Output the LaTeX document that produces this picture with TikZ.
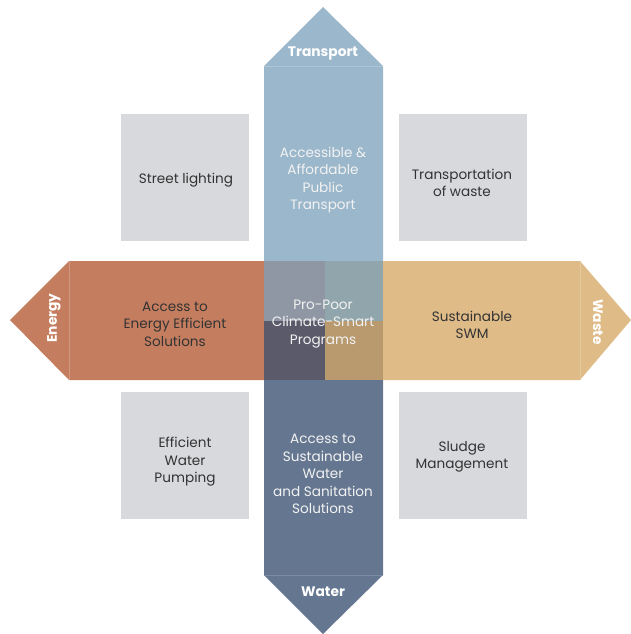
\documentclass[tikz,border=0pt]{standalone}
\usepackage{fontspec}
\setmainfont{Poppins}
\definecolor{cblue}{HTML}{9BB7CB}
\definecolor{cred}{HTML}{C47E5F}
\definecolor{ctan}{HTML}{DFBB88}
\definecolor{cslate}{HTML}{657790}
\definecolor{cgray}{HTML}{D8D9DD}
\definecolor{cqTL}{HTML}{8E97A3}
\definecolor{cqTR}{HTML}{91A6AC}
\definecolor{cqBL}{HTML}{5A5A6B}
\definecolor{cqBR}{HTML}{B89A6E}
\definecolor{darktxt}{HTML}{333333}
\definecolor{lighttxt}{HTML}{F2F2F2}
\tikzset{
  txt/.style={align=center, font=\fontsize{13.6pt}{17.5pt}\selectfont, text=darktxt, inner sep=0pt},
  wtxt/.style={txt, text=lighttxt},
  head/.style={font=\bfseries\fontsize{13.8pt}{15pt}\selectfont, text=white, inner sep=0pt},
  sep/.style={line width=0.6pt}
}
\begin{document}
\begin{tikzpicture}[x=1pt,y=-1pt]
\useasboundingbox (0,0) rectangle (631,634);
% gray boxes
\fill[cgray] (121,114) rectangle (249,241);
\fill[cgray] (399,114) rectangle (527,241);
\fill[cgray] (121,392) rectangle (249,519);
\fill[cgray] (399,392) rectangle (527,519);
% top arrow (Transport)
\fill[cblue] (264,261) -- (264,66) -- (323,7) -- (383,66) -- (383,261) -- cycle;
\draw[sep, cblue!80!white] (264,66) -- (383,66);
% bottom arrow (Water)
\fill[cslate] (264,380) -- (264,575) -- (323,634) -- (383,575) -- (383,380) -- cycle;
\draw[sep, cslate!85!white] (264,575) -- (383,575);
% left arrow (Energy)
\fill[cred] (264,261) -- (69,261) -- (10,320) -- (69,380) -- (264,380) -- cycle;
\draw[sep, cred!80!white] (69,261) -- (69,380);
% right arrow (Waste)
\fill[ctan] (383,261) -- (580,261) -- (631,320) -- (580,380) -- (383,380) -- cycle;
\draw[sep, ctan!80!white] (580,261) -- (580,380);
% center quadrants
\fill[cqTL] (264,261) rectangle (325,321);
\fill[cqTR] (325,261) rectangle (383,321);
\fill[cqBL] (264,321) rectangle (325,380);
\fill[cqBR] (325,321) rectangle (383,380);
% labels
\node[head] (transport) at (323,53) {Transport};
\node[head] (water) at (323,592) {Water};
\node[head, rotate=90] (energy) at (54,318) {Energy};
\node[head, rotate=-90] (waste) at (598,322) {Waste};
% texts
\node[txt] (street) at (186,180) {Street lighting};
\node[wtxt] (transp) at (323,180) {Accessible \&\\Affordable\\Public\\Transport};
\node[txt] (tow) at (462,183) {Transportation\\of waste};
\node[txt] (energytxt) at (175,324) {Access to\\Energy Efficient\\Solutions};
\node[wtxt] (center) at (323,324) {Pro-Poor\\Climate-Smart\\Programs};
\node[txt] (swm) at (472,325) {Sustainable\\SWM};
\node[txt] (pump) at (185,462) {Efficient\\Water\\Pumping};
\node[wtxt] (watertxt) at (323,474) {Access to\\Sustainable\\Water\\and Sanitation\\Solutions};
\node[txt] (sludge) at (462,457) {Sludge\\Management};
\end{tikzpicture}
\end{document}
